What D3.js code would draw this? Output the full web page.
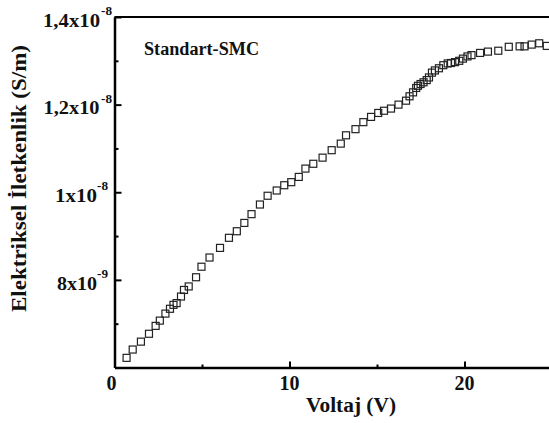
<!DOCTYPE html>
<html>
<head>
<meta charset="utf-8">
<script src="https://cdn.jsdelivr.net/npm/d3@7"></script>
<style>
  html, body { margin: 0; padding: 0; background: #fff; }
  svg { display: block; }
  text { font-family: "Liberation Serif", "Times New Roman", serif; font-weight: bold; fill: #111; }
</style>
</head>
<body>
<svg id="chart" width="549" height="423"></svg>
<script>
// Voltage (V)
const voltage = [0.69,1.04,1.51,1.97,2.35,2.59,2.91,3.17,3.37,3.55,3.80,3.97,4.24,4.66,4.97,5.43,6.03,6.54,6.99,7.42,
  7.83,8.31,8.75,9.27,9.70,10.10,10.53,10.91,11.36,11.89,12.41,12.93,13.23,13.77,14.22,14.66,15.07,15.40,15.80,16.23,
  16.66,16.86,17.06,17.24,17.34,17.49,17.66,17.84,17.97,18.14,18.31,18.54,18.79,19.04,19.23,19.46,19.70,19.91,20.17,20.40,
  20.89,21.34,21.93,22.53,23.15,23.43,23.84,24.27,24.70];
// Electrical conductivity, in units of 1e-9 S/m
const conductivity_e9 = [6.22,6.41,6.59,6.77,6.95,7.07,7.23,7.34,7.43,7.47,7.62,7.77,7.85,8.06,8.30,8.51,8.73,8.96,9.11,9.30,
  9.50,9.72,9.92,10.04,10.16,10.23,10.35,10.54,10.65,10.79,10.96,11.11,11.30,11.44,11.60,11.72,11.81,11.86,11.91,12.00,
  12.09,12.19,12.28,12.38,12.43,12.47,12.51,12.56,12.62,12.73,12.78,12.83,12.90,12.94,12.95,12.97,13.00,13.05,13.10,13.13,
  13.18,13.21,13.23,13.32,13.33,13.33,13.37,13.40,13.34];

const xMajorTicks = [0, 10, 20];
const xMinorTicks = [5, 15, 25];
const yMajorTicks = [8e-9, 1e-8, 1.2e-8, 1.4e-8];
const yMinorTicks = [7e-9, 9e-9, 1.1e-8, 1.3e-8];
const yTickMantissa = ["8x10", "1x10", "1,2x10", "1,4x10"];
const yTickExponent = ["-9", "-8", "-8", "-8"];
const xTitle = "Voltaj (V)";
const yTitle = "Elektriksel İletkenlik (S/m)";
const seriesLabel = "Standart-SMC";

const svg = d3.select("#chart");
const plotLeft = 114.5, plotTop = 17, plotBottom = 367.5;
const x = d3.scaleLinear().domain([0, 25]).range([plotLeft, plotLeft + 25 * 17.5]);
const y = d3.scaleLinear().domain([6e-9, 1.4e-8]).range([plotBottom, plotTop]);

// frame: top line
svg.append("line").attr("x1", plotLeft).attr("x2", 560).attr("y1", plotTop).attr("y2", plotTop)
  .attr("stroke", "#000").attr("stroke-width", 2);

// x axis
const gx = svg.append("g").attr("transform", `translate(0,${plotBottom})`);
gx.call(d3.axisBottom(x).tickValues(xMajorTicks).tickSizeInner(-6).tickSizeOuter(0).tickFormat(""));
const gxm = gx.append("g").call(d3.axisBottom(x).tickValues(xMinorTicks).tickSizeInner(-3).tickSizeOuter(0).tickFormat(""));
gxm.select("path.domain").remove();
gx.selectAll("path.domain").attr("stroke-width", 2.5).attr("stroke", "#000");
gx.selectAll(".tick line").attr("stroke-width", 2).attr("stroke", "#000");

svg.append("g").selectAll("text").data(xMajorTicks).join("text")
  .attr("x", (d, i) => x(d) - (i === 0 ? 3 : 0)).attr("y", 390)
  .attr("text-anchor", "middle").attr("font-size", 20).text(d => d);

// y axis
const gy = svg.append("g").attr("transform", `translate(${plotLeft},0)`);
gy.call(d3.axisLeft(y).tickValues(yMajorTicks).tickSizeInner(-7).tickSizeOuter(0).tickFormat(""));
const gym = gy.append("g").call(d3.axisLeft(y).tickValues(yMinorTicks).tickSizeInner(-4).tickSizeOuter(0).tickFormat(""));
gym.select("path.domain").remove();
gy.selectAll("path.domain").attr("stroke-width", 2.5).attr("stroke", "#000");
gy.selectAll(".tick line").attr("stroke-width", 2).attr("stroke", "#000");

// y tick labels: mantissa + superscript exponent
const mantRight = [97, 97, 99.5, 100];
const mantWidth = [40, 42, 56, 57];
const expRight = [108, 108, 112, 112];
const gyl = svg.append("g");
gyl.selectAll("text.mant").data(yMajorTicks).join("text").attr("class", "mant")
  .attr("x", (d, i) => mantRight[i] - mantWidth[i]).attr("y", d => y(d) + 9.7)
  .attr("font-size", 19).attr("textLength", (d, i) => mantWidth[i]).attr("lengthAdjust", "spacingAndGlyphs")
  .text((d, i) => yTickMantissa[i]);
gyl.selectAll("text.exp").data(yMajorTicks).join("text").attr("class", "exp")
  .attr("x", (d, i) => expRight[i] - 11).attr("y", d => y(d) - 2)
  .attr("font-size", 12).attr("textLength", 11).attr("lengthAdjust", "spacingAndGlyphs")
  .text((d, i) => yTickExponent[i]);

// titles
svg.append("text").attr("x", 306).attr("y", 412)
  .attr("font-size", 20).attr("textLength", 90).attr("lengthAdjust", "spacingAndGlyphs").text(xTitle);
svg.append("text").attr("transform", "translate(26,312) rotate(-90)")
  .attr("font-size", 20.5).attr("textLength", 267).attr("lengthAdjust", "spacingAndGlyphs").text(yTitle);
svg.append("text").attr("x", 144).attr("y", 55).attr("font-size", 18)
  .attr("textLength", 115).attr("lengthAdjust", "spacingAndGlyphs").text(seriesLabel);

// data markers
const s = 7;
svg.append("g").selectAll("rect").data(voltage).join("rect")
  .attr("x", (d) => x(d) - s / 2)
  .attr("y", (d, i) => y(conductivity_e9[i] * 1e-9) - s / 2)
  .attr("width", s).attr("height", s)
  .attr("fill", "none").attr("stroke", "#222").attr("stroke-width", 1.2);
</script>
</body>
</html>
